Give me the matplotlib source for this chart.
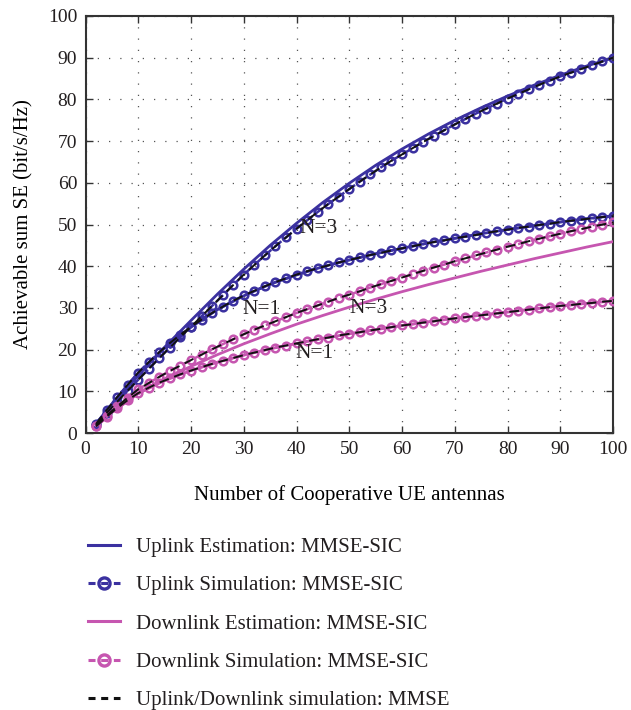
import numpy as np
import matplotlib
matplotlib.use("Agg")
import matplotlib.pyplot as plt
from matplotlib.lines import Line2D

plt.rcParams['font.family'] = ['Liberation Serif', 'DejaVu Serif']
plt.rcParams['text.color'] = '#231f20'

# marker positions of the simulated curves
x_sim = np.arange(2, 101, 2)
# points of the (smooth) estimation curves
x_est = [2, 5, 10, 15, 20, 25, 30, 35, 40, 45, 50, 55, 60, 65, 70, 75, 80, 85, 90, 95, 100]

# uplink simulation, MMSE-SIC
ul_sim_n3 = [2.0, 4.8, 7.5, 10.2, 12.8, 15.4, 18.0, 20.5, 23.0, 25.5,
             28.0, 30.5, 33.0, 35.5, 38.0, 40.3, 42.6, 44.8, 46.9, 49.0,
             51.0, 53.0, 54.9, 56.7, 58.5, 60.3, 62.0, 63.7, 65.3, 66.8,
             68.3, 69.8, 71.2, 72.6, 74.0, 75.3, 76.6, 77.8, 79.0, 80.2,
             81.3, 82.4, 83.5, 84.5, 85.5, 86.4, 87.3, 88.2, 89.1, 90.0]
ul_sim_n1 = [2.2, 5.5, 8.6, 11.6, 14.5, 17.0, 19.4, 21.6, 23.6, 25.5,
             27.2, 28.8, 30.3, 31.7, 33.0, 34.1, 35.2, 36.2, 37.1, 38.0,
             38.8, 39.5, 40.2, 40.9, 41.5, 42.1, 42.7, 43.2, 43.8, 44.3,
             44.8, 45.3, 45.8, 46.2, 46.7, 47.1, 47.5, 48.0, 48.4, 48.8,
             49.2, 49.5, 49.9, 50.2, 50.6, 50.9, 51.2, 51.5, 51.8, 52.0]
# downlink simulation, MMSE-SIC
dl_sim_n3 = [1.8, 4.2, 6.4, 8.5, 10.5, 12.0, 13.5, 14.9, 16.2, 17.5,
             18.8, 20.1, 21.3, 22.5, 23.7, 24.8, 25.8, 26.8, 27.8, 28.8,
             29.7, 30.6, 31.5, 32.4, 33.2, 34.0, 34.9, 35.7, 36.5, 37.3,
             38.1, 38.9, 39.7, 40.4, 41.2, 41.9, 42.6, 43.3, 44.0, 44.7,
             45.3, 46.0, 46.6, 47.2, 47.8, 48.4, 48.9, 49.5, 50.0, 50.5]
dl_sim_n1 = [1.6, 3.9, 6.0, 7.9, 9.6, 10.9, 12.1, 13.1, 14.1, 15.0,
             15.8, 16.6, 17.3, 18.0, 18.7, 19.3, 19.9, 20.5, 21.0, 21.5,
             22.0, 22.5, 22.9, 23.4, 23.8, 24.2, 24.6, 25.0, 25.4, 25.8,
             26.1, 26.5, 26.8, 27.2, 27.5, 27.8, 28.1, 28.4, 28.7, 29.0,
             29.3, 29.6, 29.9, 30.2, 30.5, 30.7, 31.0, 31.2, 31.5, 31.7]
# uplink/downlink simulation, MMSE (lies on top of the MMSE-SIC curves)
mmse_curves = [ul_sim_n3, ul_sim_n1, dl_sim_n3, dl_sim_n1]

# estimations
ul_est_n3 = [2.3, 6.8, 13.8, 20.6, 27.0, 33.3, 39.3, 45.0, 50.3, 55.3, 59.9,
             64.2, 68.1, 71.7, 75.0, 78.0, 80.8, 83.4, 85.8, 88.0, 90.0]
ul_est_n1 = [2.2, 7.0, 14.4, 20.4, 25.4, 29.6, 32.9, 35.7, 37.9, 39.9, 41.5,
             43.0, 44.3, 45.6, 46.7, 47.8, 48.8, 49.7, 50.6, 51.4, 52.1]
dl_est_n3 = [1.5, 5.0, 9.5, 13.0, 16.0, 18.8, 21.4, 23.8, 26.1, 28.2, 30.2,
             32.1, 33.9, 35.6, 37.2, 38.8, 40.3, 41.8, 43.2, 44.6, 45.9]
dl_est_n1 = [1.6, 5.0, 9.5, 12.6, 15.0, 17.0, 18.7, 20.2, 21.5, 22.7, 23.8,
             24.8, 25.8, 26.7, 27.5, 28.3, 29.0, 29.8, 30.5, 31.1, 31.7]

# curve labels: text, x, y
labels = [("N=3", 40.5, 49.0), ("N=1", 29.8, 29.6), ("N=3", 50.0, 29.8), ("N=1", 39.8, 19.2)]

blue = '#3b31a0'
pink = '#c656b0'

fig = plt.figure(figsize=(6.31, 7.1), dpi=100)
ax = fig.add_axes([0.1355, 0.39, 0.836, 0.5875])

# estimation curves
for y, c in [(ul_est_n3, blue), (ul_est_n1, blue), (dl_est_n3, pink), (dl_est_n1, pink)]:
    ax.plot(x_est, y, '-', color=c, lw=2.0, zorder=3)
# simulation curves
for y, c in [(ul_sim_n3, blue), (ul_sim_n1, blue), (dl_sim_n3, pink), (dl_sim_n1, pink)]:
    ax.plot(x_sim, y, '--', color=c, lw=1.8, marker='o', ms=5.5, mew=1.8,
            mfc='none', mec=c, zorder=4)
# MMSE
for y in mmse_curves:
    ax.plot(x_sim, y, '--', color='#111111', lw=1.4, dashes=(5, 3), zorder=5)

for t, x, y in labels:
    ax.text(x, y, t, fontsize=15.5, va='center', ha='left', color='#231f20', zorder=6)

ax.set_xlim(0, 100)
ax.set_ylim(0, 100)
ax.set_xticks(np.arange(0, 101, 10))
ax.set_yticks(np.arange(0, 101, 10))
ax.tick_params(direction='in', top=True, right=True, length=5, width=1.0,
               labelsize=14, colors='#333333', labelcolor='#231f20', pad=6)
ax.grid(True, linestyle=(0, (1, 8)), color='#555555', lw=0.9)
for s in ax.spines.values():
    s.set_color('#333333')
    s.set_linewidth(1.5)

ax.set_xlabel('Number of Cooperative UE antennas', fontsize=15, labelpad=19)
ax.set_ylabel('Achievable sum SE (bit/s/Hz)', fontsize=15, labelpad=10)

dash = (2.3, 1.85)
handles = [
    Line2D([], [], color=blue, lw=2.2),
    Line2D([], [], color=blue, lw=2.2, ls='--', dashes=dash, marker='o', ms=8,
           mew=2.4, mfc='none'),
    Line2D([], [], color=pink, lw=2.2),
    Line2D([], [], color=pink, lw=2.2, ls='--', dashes=dash, marker='o', ms=8,
           mew=2.4, mfc='none'),
    Line2D([], [], color='#111111', lw=2.2, ls='--', dashes=dash),
]
names = ['Uplink Estimation: MMSE-SIC', 'Uplink Simulation: MMSE-SIC',
         'Downlink Estimation: MMSE-SIC', 'Downlink Simulation: MMSE-SIC',
         'Uplink/Downlink simulation: MMSE']
fig.legend(handles, names, loc='upper left', bbox_to_anchor=(0.1395, 0.243),
           frameon=False, fontsize=15, handlelength=1.55, handletextpad=0.75,
           labelspacing=0.9, borderpad=0, borderaxespad=0)

fig.savefig('out.png', dpi=100)
